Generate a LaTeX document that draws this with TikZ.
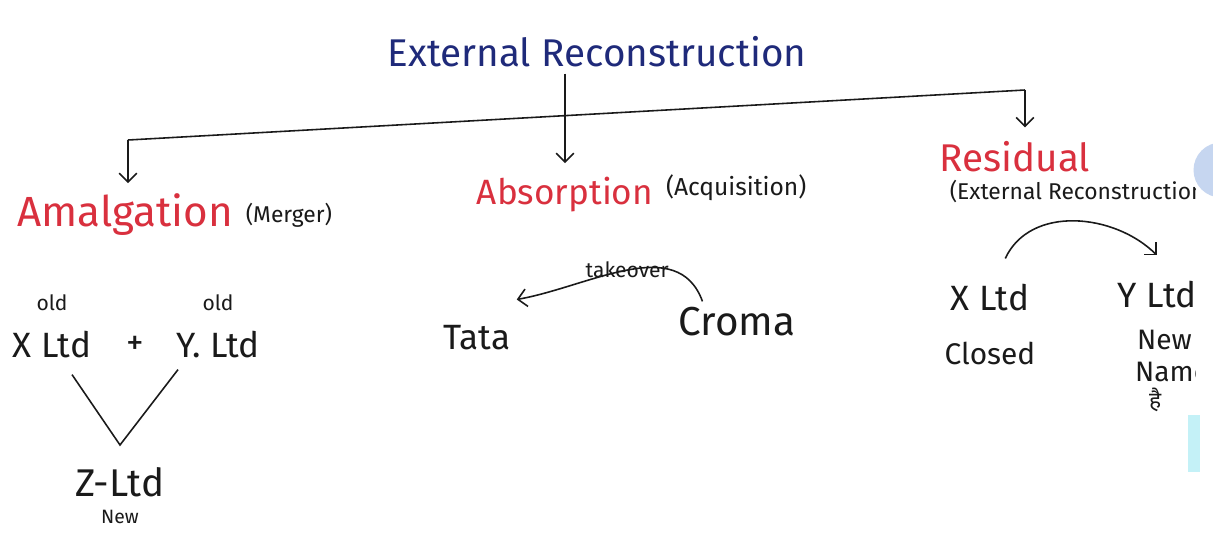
\documentclass[tikz,border=0pt]{standalone}
\usepackage{fontspec}
\setmainfont{Fira Sans}
\newfontfamily\hindi[Script=Devanagari]{Noto Sans}
\usepackage{tikz}
\usetikzlibrary{positioning,arrows.meta}
\definecolor{ink}{HTML}{1A1A1A}
\definecolor{navy}{HTML}{1F2A7A}
\definecolor{redink}{HTML}{D9303E}
\definecolor{tabblue}{HTML}{C6D6F0}
\definecolor{tabcyan}{HTML}{C4F1F7}
\tikzset{
  heading/.style={text=navy, font=\fontsize{22}{25}\selectfont},
  kind/.style={text=redink, font=\fontsize{22}{26}\selectfont, inner sep=2pt},
  aside/.style={text=ink, font=\fontsize{13}{16}\selectfont, inner sep=2pt},
  firm/.style={text=ink, font=\fontsize{20}{24}\selectfont},
  tag/.style={text=ink, font=\fontsize{12}{14}\selectfont, inner sep=1pt},
  pen/.style={draw=ink, line width=0.9pt},
}

\begin{document}
\begin{tikzpicture}[x=0.02cm, y=-0.02cm, >={Straight Barb[length=5pt, width=10pt]}]

\fill[white] (0,0) rectangle (1213,535);
\useasboundingbox (0,0) rectangle (1213,535);

\begin{scope}
\clip (0,0) rectangle (1195,535);

% Title
\node[heading] (title) at (597,52) {External Reconstruction};

% Three kinds
\node[kind, font=\fontsize{24}{28}\selectfont] (amalg) at (125,215) {Amalgation};
\node[aside, right=3pt of amalg] (merger) {(Merger)};
\node[kind, font=\fontsize{20}{24}\selectfont] (absorp) at (565,195) {Absorption};
\node[aside, font=\fontsize{14}{17}\selectfont, right=3pt of absorp, yshift=0.15cm] (acq) {(Acquisition)};
\node[kind] (resid) at (1015,157) {Residual};
\node[aside, anchor=north west, xshift=0.2cm] (resnote) at (resid.south west) {(External Reconstruction)};

% Branches
\coordinate (bl) at (128,140);
\coordinate (br) at (1025,90);
\draw[pen] (bl) -- (br);
\draw[pen, ->, shorten >=4pt] (bl) -- (bl |- amalg.north);
\draw[pen, ->, shorten >=6pt] (title.south -| absorp.north) -- (absorp.north);
\draw[pen, ->, shorten >=6pt] (br) -- (br |- resid.north);

% Amalgation: two old firms make a new one
\node[firm] (xl) at (52,345) {X Ltd};
\node[firm] (plus) at (135,345) {+};
\node[firm] (yl) at (218,345) {Y. Ltd};
\node[tag, above=7pt of xl] (oldx) {old};
\node[tag, above=7pt of yl] (oldy) {old};
\node[firm, font=\fontsize{22}{26}\selectfont] (zl) at (120,482) {Z-Ltd};
\node[tag, font=\fontsize{11}{13}\selectfont, below=3pt of zl] (newz) {New};
\coordinate (vtip) at (120,445);
\draw[pen] ([xshift=0.4cm, yshift=-0.2cm]xl.south) -- (vtip) -- ([xshift=-0.8cm, yshift=-0.1cm]yl.south);

% Absorption: takeover
\node[firm] (tata) at (477,338) {Tata};
\node[firm, font=\fontsize{23}{27}\selectfont] (croma) at (737,322) {Croma};
\draw[pen, ->] ([xshift=0.6cm]croma.north west) to[out=110, in=10]
  node[tag, midway, above=-6pt]{takeover}
  ([yshift=0.4cm]tata.north east);

% Residual: old firm closed, new name
\node[firm] (xr) at (990,298) {X Ltd};
\node[firm] (yr) at (1157,295) {Y Ltd};
\node[firm, font=\fontsize{17}{20}\selectfont] (closed) at (990,353) {Closed};
\node[firm, font=\fontsize{16}{19}\selectfont, anchor=west] (ynew) at (1131,340) {New};
\node[firm, font=\fontsize{16}{19}\selectfont, anchor=west] (yname) at (1129,372) {Name};
\node[firm, font=\hindi\fontsize{13}{16}\selectfont, anchor=west] (yhai) at (1143,400) {है};
\draw[pen, ->] ([xshift=-0.6cm, yshift=0.4cm]xr.north east) to[out=65, in=135]
  ([yshift=0.4cm]yr.north);
\end{scope}

% Page tabs at the edge
\fill[tabblue] (1221,170) circle (0.55cm);
\fill[tabcyan] (1188,415) rectangle (1200,472);

\end{tikzpicture}
\end{document}
